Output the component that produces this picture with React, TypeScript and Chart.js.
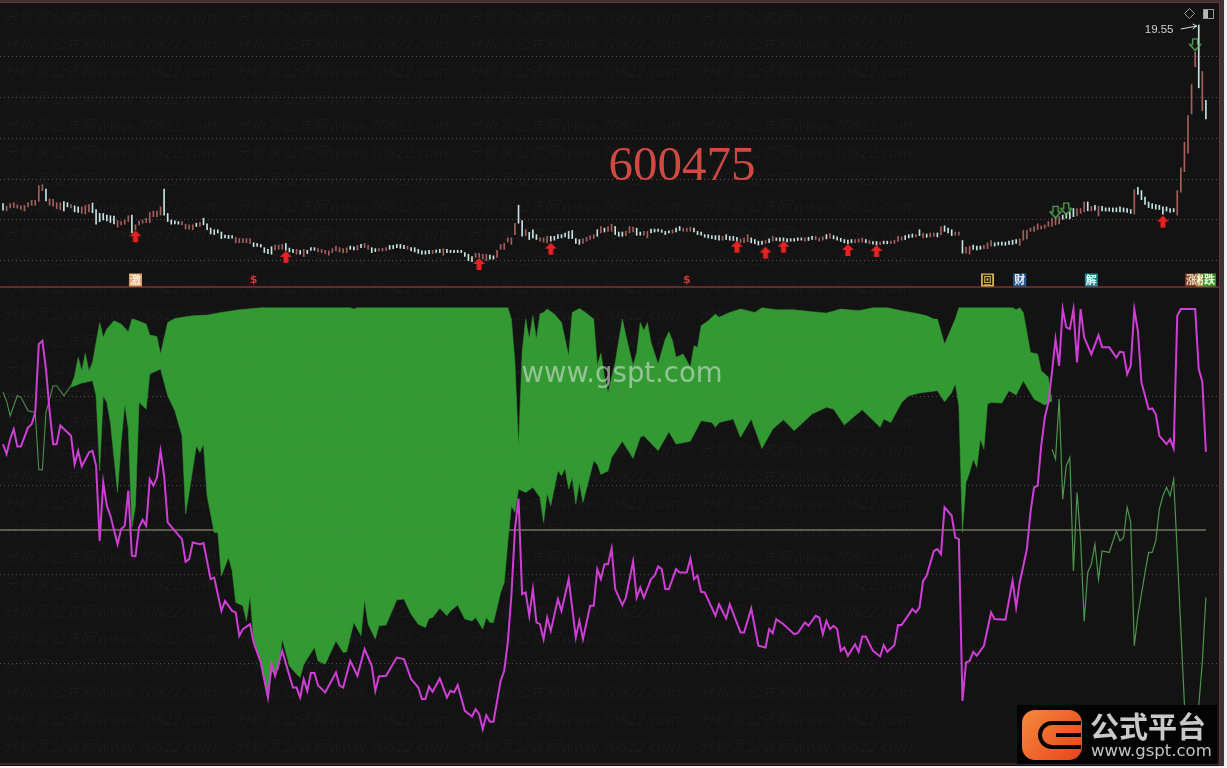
import React, { useEffect, useRef } from "react";
import { Chart, registerables } from "chart.js";

Chart.register(...registerables);

const barHigh = [
  8.6,8.44,8.6,8.66,8.52,8.46,8.48,8.66,8.8,8.8,
  9.7,9.76,9.5,8.9,8.86,8.66,8.66,8.72,8.66,8.54,
  8.46,8.4,8.4,8.48,8.54,8.64,8.24,8.0,8.0,7.9,
  7.86,7.84,7.56,7.5,7.6,7.86,7.9,7.3,7.54,7.6,
  7.7,8.06,8.14,8.14,8.4,9.5,8.0,7.6,7.54,7.5,
  7.5,7.34,7.3,7.3,7.4,7.46,7.7,7.36,7.1,7.0,
  7.0,6.86,6.68,6.66,6.64,6.54,6.46,6.46,6.46,6.46,
  6.2,6.16,6.1,5.9,5.8,5.96,6.06,6.06,6.1,6.16,
  5.88,5.8,5.8,5.74,5.8,5.74,5.9,5.9,5.84,5.8,
  5.74,5.7,5.84,6.0,5.9,5.84,5.9,6.0,5.96,6.04,
  6.1,6.16,6.04,5.9,5.84,5.84,5.86,5.9,6.04,6.04,
  6.1,6.1,6.04,6.0,5.9,5.9,5.8,5.7,5.7,5.74,
  5.74,5.76,5.8,5.84,5.8,5.74,5.74,5.74,5.74,5.6,
  5.5,5.36,5.56,5.56,5.5,5.5,5.44,5.4,5.74,6.1,
  6.16,6.5,6.5,7.4,8.5,7.56,7.0,6.84,7.0,6.7,
  6.5,6.5,6.6,6.6,6.6,6.7,6.7,6.8,6.9,6.96,
  6.46,6.4,6.44,6.54,6.64,6.7,7.0,7.2,7.1,7.2,
  7.34,7.2,6.86,6.86,6.9,7.2,7.16,7.1,6.86,6.9,
  6.9,7.04,7.04,7.04,7.0,6.9,6.94,7.0,7.1,7.2,
  7.1,7.1,7.16,7.1,6.9,6.86,6.7,6.7,6.64,6.64,
  6.64,6.6,6.7,6.6,6.6,6.54,6.44,6.5,6.7,6.5,
  6.4,6.3,6.3,6.34,6.44,6.6,6.5,6.5,6.5,6.46,
  6.46,6.46,6.5,6.5,6.5,6.54,6.6,6.6,6.5,6.56,
  6.7,6.76,6.64,6.56,6.48,6.4,6.36,6.4,6.4,6.44,
  6.48,6.4,6.34,6.28,6.28,6.24,6.3,6.3,6.3,6.36,
  6.6,6.56,6.64,6.7,6.74,6.7,7.0,6.8,6.74,6.8,
  6.8,6.8,7.2,7.24,7.1,7.0,6.86,6.86,6.34,5.94,
  6.0,6.06,6.0,6.0,6.04,6.2,6.34,6.2,6.24,6.24,
  6.24,6.3,6.36,6.4,6.44,6.96,6.96,7.1,7.2,7.36,
  7.24,7.3,7.5,7.7,7.7,7.8,7.9,8.0,8.1,8.3,
  8.3,8.3,8.7,8.7,8.44,8.5,8.44,8.44,8.34,8.34,
  8.34,8.34,8.4,8.34,8.3,8.24,9.46,9.6,9.4,9.0,
  8.7,8.6,8.54,8.5,8.4,8.4,8.3,8.3,9.4,10.8,
  12.36,14.0,15.9,17.9,19.55,16.7,14.94,
];
const barLow = [
  8.2,8.16,8.34,8.36,8.32,8.24,8.16,8.4,8.5,8.5,
  8.74,9.4,8.76,8.5,8.44,8.3,8.24,8.16,8.4,8.34,
  8.1,8.06,8.0,7.96,8.1,8.04,7.34,7.5,7.6,7.54,
  7.44,7.36,7.16,7.3,7.34,7.5,6.8,7.0,7.3,7.4,
  7.44,7.44,7.8,7.8,7.9,7.9,7.5,7.34,7.36,7.34,
  7.3,7.04,7.04,7.0,7.2,7.2,7.3,7.0,6.74,6.7,
  6.8,6.46,6.5,6.46,6.48,6.2,6.2,6.2,6.2,6.14,
  5.96,5.98,5.94,5.6,5.54,5.5,5.76,5.8,5.8,5.74,
  5.64,5.6,5.5,5.5,5.36,5.54,5.74,5.74,5.64,5.6,
  5.54,5.44,5.6,5.7,5.64,5.6,5.6,5.8,5.76,5.76,
  5.9,5.9,5.8,5.6,5.66,5.7,5.7,5.74,5.8,5.84,
  5.9,5.86,5.84,5.8,5.7,5.64,5.56,5.5,5.5,5.54,
  5.54,5.6,5.6,5.44,5.6,5.6,5.6,5.6,5.6,5.36,
  5.1,5.04,5.3,5.3,5.2,5.1,5.2,5.2,5.3,5.8,
  5.8,6.24,6.1,6.7,7.4,6.6,6.64,6.4,6.5,6.4,
  6.3,6.24,6.2,6.3,6.36,6.46,6.5,6.56,6.46,6.46,
  6.16,6.1,6.16,6.3,6.4,6.46,6.6,6.8,6.86,6.9,
  6.9,6.7,6.6,6.6,6.64,6.8,6.86,6.66,6.66,6.66,
  6.5,6.8,6.86,6.9,6.84,6.7,6.8,6.8,6.86,6.96,
  6.9,6.9,6.9,6.86,6.7,6.66,6.54,6.5,6.46,6.4,
  6.36,6.36,6.4,6.36,6.34,6.3,6.2,6.2,6.26,6.2,
  6.14,6.06,6.1,6.16,6.2,6.3,6.34,6.3,6.3,6.26,
  6.3,6.3,6.34,6.36,6.3,6.34,6.4,6.4,6.3,6.36,
  6.44,6.48,6.44,6.36,6.28,6.2,6.14,6.2,6.2,6.24,
  6.24,6.2,6.14,6.12,6.06,6.08,6.14,6.14,6.16,6.16,
  6.28,6.36,6.4,6.5,6.54,6.56,6.64,6.5,6.54,6.56,
  6.6,6.56,6.68,6.9,6.8,6.64,6.66,6.66,5.56,5.56,
  5.5,5.8,5.76,5.8,5.84,5.84,6.0,6.0,6.06,6.06,
  6.04,6.1,6.1,6.16,6.04,6.36,6.44,6.9,6.9,7.0,
  7.04,7.1,7.2,7.2,7.3,7.36,7.64,7.7,7.66,7.8,
  7.84,8.0,8.1,8.16,8.16,8.2,7.84,8.16,8.14,8.14,
  8.1,8.1,8.1,8.1,8.06,8.0,7.96,9.16,8.84,8.56,
  8.36,8.3,8.26,8.24,7.96,8.14,8.06,8.1,7.9,9.3,
  10.56,11.7,14.1,17.0,15.7,14.3,13.8,
];
const fallingDays = [
  0,12,17,18,20,21,25,26,27,28,29,30,31,36,45,46,47,48,49,54,56,57,58,59,60,61,62,63,64,
  70,71,72,73,74,75,79,80,81,83,85,86,87,97,98,100,103,104,108,109,110,111,112,
  114,115,116,117,118,119,121,122,124,125,126,127,128,129,130,131,136,137,144,145,147,148,149,
  153,154,155,156,157,158,159,160,161,166,168,171,172,173,177,178,181,182,183,184,185,186,188,189,
  193,194,195,196,197,198,199,200,202,203,204,205,209,210,211,212,214,216,217,218,219,220,221,222,223,225,226,
  230,232,233,234,235,236,237,241,243,244,246,247,252,253,254,256,258,261,263,264,265,268,271,272,273,
  277,278,279,280,281,282,283,296,297,298,299,303,305,307,308,309,310,311,312,313,314,315,
  317,318,319,320,321,322,323,324,325,326,327,334,336,
];

const buyDays = [37, 79, 133, 153, 205, 213, 218, 236, 244, 324];
const buyPrices = [6.6, 5.34, 4.9, 5.84, 5.96, 5.6, 5.96, 5.76, 5.7, 7.5];
const sellDays = [294, 297, 333];
const sellPrices = [8.1, 8.3, 18.36];

const signalDays = [37, 70, 191, 275, 284, 304, 332, 335, 337];
const signalTexts = ["激", "$", "$", "回", "财", "解", "涨", "榜", "跌"];
const signalFills = ["#dca06c", "", "", "#d8b45c", "#2b5a8c", "#2c8090", "#7c3a24", "#a89858", "#3f8a2a"];
const signalInks = ["#fff4e4", "#c83a3a", "#c83a3a", "#1e1a10", "#e8f0ff", "#e8ffff", "#f0e0c0", "#fff8e0", "#e8ffe0"];

const priceGrid = [5.1, 7.6, 10.1, 12.6, 15.1, 17.6];
const oscillatorGrid = [-60, -20, 20, 60];
const peakLabel = "19.55";
const stockCode = "600475";

const magentaDays = [
  0,1,2,3,4,5,7,8,9,10,11,12,13,14,15,16,19,20,21,22,24,25,26,27,28,29,30,32,33,34,35,36,37,38,39,40,41,42,43,44,45,46,48,50,51,52,53,55,56,58,59,61,62,64,65,66,67,69,70,72,74,75,76,78,80,81,82,
  83,84,85,86,87,88,90,93,94,95,97,99,101,103,104,105,107,110,112,114,116,117,118,119,120,122,124,125,126,127,129,131,132,133,134,135,136,137,139,140,141,142,143,144,145,146,147,148,149,150,151,152,153,155,156,158,160,161,162,164,165,166,
  167,168,169,170,171,173,174,176,177,178,179,181,182,183,184,185,186,188,189,191,192,193,194,195,196,199,200,202,203,206,207,209,211,213,214,215,216,218,221,222,224,225,227,228,229,230,231,232,233,234,235,236,238,239,240,241,243,245,246,247,249,250,251,254,255,
  256,257,258,260,261,262,263,265,266,267,268,269,270,271,272,274,276,277,280,282,283,284,286,287,288,289,290,291,292,293,294,295,296,297,298,299,300,301,302,304,306,307,309,311,312,313,314,315,316,317,318,320,321,322,323,325,326,327,328,329,333,334,335,336,
];
const magentaValues = [
  38.6,34.2,40.9,45.4,37.6,37.6,46.2,47.6,52.9,83.6,85.1,72.4,53.7,38.6,38.6,47,42.4,29.6,35.6,28.6,34.9,35.6,28.9,-4.9,21.4,10.9,6.4,-6.4,0.4,1.9,17.7,-11.6,-11.9,1.2,4.6,1.9,22.9,20,23.6,35.6,24.4,3.4,-0.4,-4.1,-14.3,-13.1,-5.6,-6.4,-5.9,-22.1,-21.4,-36.4,-31.9,-36.4,-37.1,-47.6,-44.6,-42.4,-50.6,-59.6,-75.4,-60.4,-65.6,-54.4,-65.6,-70.9,-70.9,
  -75.4,-67.1,-72.4,-64.4,-64.4,-70,-73.1,-64.1,-70,-70.9,-58.9,-65.6,-53.6,-61.1,-72.4,-65.9,-65.6,-57.4,-58.1,-67.1,-70.9,-76.1,-76.1,-70.4,-72.8,-66.8,-75.4,-72.4,-73.1,-69.8,-81.4,-83.9,-80.6,-82.9,-89.6,-83.3,-86.3,-86.3,-67.9,-63.4,-50.6,-29.6,0.4,14.2,-28.9,-28.1,-38.6,-26.6,-41.6,-42.4,-49.1,-39.4,-45.4,-31.1,-36.4,-22.1,-48.4,-40.9,-49.1,-34.1,-34.1,-17.6,
  -22.1,-15.4,-15.4,-8.3,-26.6,-33.8,-30.4,-14.2,-30.4,-25.9,-30.4,-22.1,-20.6,-16.4,-17.6,-26.6,-26.6,-17.6,-19.1,-19.1,-12.8,-22.1,-20.6,-27.8,-28.1,-38.6,-33.4,-39.8,-33.4,-46.1,-46.1,-35.3,-52.1,-52.9,-44.6,-46.4,-40.1,-42.4,-46.9,-46.4,-41.6,-43.1,-38.6,-39.4,-46.9,-40.9,-44.6,-43.1,-44.6,-54.4,-52.9,-56.6,-51.4,-54.8,-47.9,-47.9,-54.4,-56.9,-51.8,-54.8,-51.8,-42.8,-42.8,-35.6,-37.1,
  -34.9,-22.9,-20.6,-9.4,-8.6,-10.9,10.2,6.4,-3.4,-4.1,-76.9,-59.6,-58.9,-54.8,-56.6,-52.1,-37.1,-40.1,-40.4,-22.9,-34.9,-23.6,-8.6,7.9,19.2,19.9,37.9,50.7,57.4,70.9,85.9,73.9,99.4,91.2,90.4,99.4,75.4,99.4,86.7,79.1,87.7,82.2,82.2,77.6,80.2,79.9,70.1,73.9,99.4,89.6,66.4,54.4,54.7,52.2,42.4,38.6,40.9,36.7,96.4,99.4,99.4,72.4,66.7,35.2,
];

const greenLeftDays = [0,1,2,4,5,7,9,10,11,12,14,15,17,19];
const greenLeftValues = [62,58,51.4,60.4,59.7,53.7,52.9,27.1,27.1,52.9,64.9,64.9,60.4,64.9];

const bandTopDays = [
  19,20,21,22,23,24,25,27,28,29,31,33,35,36,37,40,41,43,44,46,48,53,57,61,66,72,83,97,98,99,141,142,143,144,145,146,147,148,149,150,151,152,154,156,158,159,161,162,165,166,
  167,168,169,171,173,174,176,177,178,179,180,181,183,185,186,187,188,190,192,193,194,195,197,199,200,203,206,208,210,212,216,221,226,230,234,239,243,247,251,256,
  258,260,261,263,264,266,267,282,283,284,285,287,289,290,292,293,
];
const bandTopValues = [
  64.9,69.4,77.7,71.6,79.6,71.6,75.4,93.4,86.7,90.4,94.2,92.7,89.2,94.9,94.6,92.7,87.7,87.1,79.2,93.4,95.2,96.4,96.7,97.9,99.1,100,100,100,99.4,100,100,94.9,75.4,37.1,80,94.9,85.9,96.4,85.9,97.2,97.9,99.4,97.2,93.4,78.4,97.9,99.7,98.7,94.9,73.9,
  79.6,69.4,61.9,75.4,94.9,87.4,73.9,79.9,93.4,89.7,93.4,84.4,74.7,85.9,89.2,85.2,77.7,79.2,73.2,82.9,82.2,91.9,94.2,97.2,95.7,97.9,99.4,98.7,97.9,100,99.1,99.1,98.2,97.6,99.4,98.7,100,100,98.7,97.2,
  96.4,94.9,94.9,83.7,87.4,94.9,100,100,99.1,100,97.9,79.9,79.2,71.7,68.7,58,
];
const bandBottomDays = [
  19,22,25,26,27,28,29,30,32,33,34,35,36,37,38,40,41,44,46,48,50,51,52,54,55,56,57,59,60,61,63,64,65,67,68,69,70,72,74,75,77,78,80,82,
  83,84,87,88,90,93,95,96,98,100,101,102,104,105,107,110,112,114,116,118,119,120,122,124,125,127,129,131,132,134,135,136,137,139,140,141,142,143,144,146,148,150,151,152,153,155,156,157,158,159,160,161,162,165,166,
  167,169,170,173,176,178,179,183,186,188,192,195,198,199,200,204,206,209,212,215,218,221,226,230,232,235,238,240,245,246,248,251,253,256,
  261,263,265,266,267,268,269,270,271,272,273,274,275,276,279,281,283,285,288,291,293,
];
const bandBottomValues = [
  64.2,66.1,67.2,60.4,26.6,60.4,57.4,48.4,16.9,39.4,56.7,45.4,1.2,10.9,57.4,54.4,70.2,72.4,60.4,53.7,42.4,7.2,16.9,37.9,34.9,38.6,15.4,-1.1,-1.1,-20.6,-12.4,-18.4,-32.6,-34.1,-40.9,-29.6,-49.1,-59.6,-75.4,-64.1,-62.6,-49.1,-61.1,-64.9,
  -66.4,-60.4,-52.9,-58.9,-60.4,-49.9,-55.1,-54.8,-41.6,-47.6,-31.4,-42.4,-49.1,-43.1,-42.8,-31.4,-31.1,-37.9,-42.4,-43.9,-39.8,-39.4,-35.2,-38.6,-36.4,-33.8,-40.1,-40.9,-39.4,-44.6,-39.4,-41.6,-41.6,-28.1,-23.6,-5.6,10.9,7.9,18.4,16.9,19.2,14.7,3.4,16.6,10.9,26.7,24.4,27.7,18.4,23.7,11.7,21.4,12.4,31.2,29.6,
  25,26.6,32.6,39.9,32.2,41.7,42.4,35.7,44.2,38.7,39.9,49.2,48.4,46.2,48.4,49.9,41.7,49.9,36.7,45.4,49.6,44.7,52.2,55.2,54.4,47.2,51.4,54.1,46.2,49.9,48.4,57.4,60.4,61.6,
  62.7,57.7,61.9,65.9,55.9,-1.1,21.4,25.9,31.9,28.2,40.9,36.4,56.7,57.4,57.1,62.7,60.7,67.2,58.9,56.2,58,
];

const greenRightDays = [293,294,295,296,297,298,299,300,301,302,303,304,305,306,307,309,311,312,313,314,315,316,317,319,320,321,322,323,324,325,326,327,328,329,330,332,334,335,336];
const greenRightValues = [36.4,31.9,58.9,13.9,28.9,32.6,-18.4,16.9,-4,-41,-19.1,-15.4,-6.4,-22.1,-9.4,-10.1,-0.4,-4.9,-3.4,10.2,3.4,-52.1,-38.6,-19.1,-10.1,-10.1,-4.9,9.4,15.4,19.2,15.4,22.9,-10.4,-44.6,-78.4,-101,-79.1,-59.6,-30.4];

const zeroLineDays = [-0.84, 336];
const zeroLineValues = [0, 0];

const pairs = (xs: number[], ys: number[]) => xs.map((x, i) => ({ x, y: ys[i] }));

function arrowIcon(color: string, hollow: boolean) {
  const c = document.createElement("canvas");
  c.width = 14;
  c.height = 14;
  const g = c.getContext("2d")!;
  g.beginPath();
  if (hollow) {
    g.moveTo(7, 13); g.lineTo(1.5, 7); g.lineTo(4.5, 7); g.lineTo(4.5, 1.5); g.lineTo(9.5, 1.5); g.lineTo(9.5, 7); g.lineTo(12.5, 7);
    g.closePath();
    g.strokeStyle = color;
    g.lineWidth = 1.2;
    g.stroke();
  } else {
    g.moveTo(7, 1); g.lineTo(13, 7); g.lineTo(9.5, 7); g.lineTo(9.5, 13); g.lineTo(4.5, 13); g.lineTo(4.5, 7); g.lineTo(1, 7);
    g.closePath();
    g.fillStyle = color;
    g.fill();
  }
  return c;
}

const decorations = {
  id: "decorations",
  beforeDraw(chart: any) {
    const g = chart.ctx;
    g.save();
    g.fillStyle = "#131314";
    g.fillRect(0, 0, 1227, 768);
    g.restore();
  },
  afterDraw(chart: any) {
    const g = chart.ctx;
    const x = chart.scales.x;
    const yP = chart.scales.yPrice;
    g.save();

    g.font = "italic 15.5px 'Noto Sans CJK SC'";
    g.fillStyle = "rgba(120,120,120,0.075)";
    g.textBaseline = "middle";
    g.textAlign = "left";
    for (let r = 0; r < 28; r++) {
      for (let c = 0; c < 4; c++) {
        g.fillText("分析家公式网www.70822.com", 3 + 232 * c, 17 + 27 * r);
      }
    }

    g.fillStyle = "#3c3335";
    g.fillRect(0, 0, 1227, 2);
    g.fillRect(1219, 0, 5, 766);
    g.fillStyle = "#f0f0f0";
    g.fillRect(1224, 0, 3, 768);
    g.fillRect(0, 766, 1227, 2);
    g.strokeStyle = "#6e2f30";
    g.lineWidth = 1;
    g.strokeRect(-2, 2.5, 1221.5, 761.5);
    g.strokeStyle = "#7c3432";
    g.lineWidth = 1.5;
    g.beginPath();
    g.moveTo(0, 287);
    g.lineTo(1219, 287);
    g.stroke();

    g.textAlign = "center";
    signalDays.forEach((d, i) => {
      const px = x.getPixelForValue(d);
      const py = yP.getPixelForValue(3.92);
      if (signalFills[i]) {
        g.fillStyle = signalFills[i];
        g.fillRect(px - 6.5, py - 6.5, 13, 13);
      }
      g.fillStyle = signalInks[i];
      g.font = signalTexts[i] === "$" ? "bold 11px 'DejaVu Sans'" : "bold 11px 'Noto Sans CJK SC'";
      g.fillText(signalTexts[i], px, py);
    });

    g.fillStyle = "#cfcfcf";
    g.font = "11.5px 'Liberation Sans'";
    g.textAlign = "left";
    const peakX = x.getPixelForValue(334);
    const peakY = yP.getPixelForValue(19.55);
    g.fillText(peakLabel, peakX - 54, peakY + 5);
    g.strokeStyle = "#d8d8d8";
    g.lineWidth = 1;
    g.beginPath();
    g.moveTo(peakX - 18, peakY + 4);
    g.lineTo(peakX - 2, peakY + 1);
    g.moveTo(peakX - 6, peakY - 1);
    g.lineTo(peakX - 2, peakY + 1);
    g.lineTo(peakX - 6, peakY + 4);
    g.stroke();

    g.strokeStyle = "#9a9a9a";
    g.beginPath();
    g.moveTo(1189.5, 8.5); g.lineTo(1194.5, 13.5); g.lineTo(1189.5, 18.5); g.lineTo(1184.5, 13.5);
    g.closePath();
    g.stroke();
    g.strokeRect(1203.5, 9.5, 10, 9);
    g.fillStyle = "#b8b8b8";
    g.fillRect(1204, 10, 4, 8);

    g.font = "49px 'Liberation Serif'";
    g.fillStyle = "#cf4a42";
    g.textAlign = "center";
    g.fillText(stockCode, 682, 167);

    g.font = "27.5px 'DejaVu Sans'";
    g.fillStyle = "rgba(205,225,205,0.62)";
    g.fillText("www.gspt.com", 622, 375);

    g.fillStyle = "#040404";
    g.fillRect(1017, 705, 200, 59);
    const grad = g.createLinearGradient(1022, 710, 1082, 760);
    grad.addColorStop(0, "#f58a3c");
    grad.addColorStop(1, "#e8431c");
    g.fillStyle = grad;
    g.beginPath();
    g.roundRect(1022, 710, 60, 50, 13);
    g.fill();
    g.strokeStyle = "#050505";
    g.lineWidth = 4;
    g.beginPath();
    g.moveTo(1081, 723);
    g.lineTo(1052, 723);
    g.arc(1052, 735, 12, -Math.PI / 2, Math.PI / 2, true);
    g.lineTo(1081, 747);
    g.moveTo(1056, 735);
    g.lineTo(1081, 735);
    g.stroke();
    g.fillStyle = "#c9c9c9";
    g.textAlign = "left";
    g.font = "bold 29px 'Noto Sans CJK SC'";
    g.fillText("公式平台", 1090, 727);
    g.font = "16.5px 'DejaVu Sans'";
    g.fillStyle = "#c4c4c4";
    g.fillText("www.gspt.com", 1091, 752);

    g.restore();
  },
};

export default function App() {
  const ref = useRef<HTMLCanvasElement>(null);
  useEffect(() => {
    const falling = new Set(fallingDays);
    const bars = barHigh.map((h, i) => ({ x: i, y: [barLow[i], h] }));
    const chart = new Chart(ref.current!, {
      type: "line",
      plugins: [decorations],
      data: {
        datasets: [
          { type: "line", data: pairs(zeroLineDays, zeroLineValues), yAxisID: "yOsc", borderColor: "#a8a487", borderWidth: 1, pointRadius: 0, order: 9 },
          { type: "line", data: pairs(greenLeftDays, greenLeftValues), yAxisID: "yOsc", borderColor: "#4f8f4f", borderWidth: 1.1, pointRadius: 0, order: 8 },
          { type: "line", data: pairs(bandTopDays, bandTopValues), yAxisID: "yOsc", borderColor: "#339933", borderWidth: 0.5, backgroundColor: "#339933", fill: "+1", pointRadius: 0, order: 7 },
          { type: "line", data: pairs(bandBottomDays, bandBottomValues), yAxisID: "yOsc", borderColor: "#339933", borderWidth: 0.5, pointRadius: 0, order: 7 },
          { type: "line", data: pairs(greenRightDays, greenRightValues), yAxisID: "yOsc", borderColor: "#4c954c", borderWidth: 1.2, pointRadius: 0, order: 6 },
          { type: "line", data: pairs(magentaDays, magentaValues), yAxisID: "yOsc", borderColor: "#cf3fd6", borderWidth: 2, pointRadius: 0, order: 1 },
          { type: "bar", data: bars as any, yAxisID: "yPrice", barThickness: 1, backgroundColor: bars.map((_, i) => (falling.has(i) ? "#c6e4e2" : "#a5605c")), order: 3 },
          { type: "line", data: pairs(buyDays, buyPrices), yAxisID: "yPrice", showLine: false, pointStyle: arrowIcon("#e62222", false) as any, pointRadius: 7, order: 2 },
          { type: "line", data: pairs(sellDays, sellPrices), yAxisID: "yPrice", showLine: false, pointStyle: arrowIcon("#5cb85c", true) as any, pointRadius: 7, order: 2 },
        ],
      },
      options: {
        animation: false,
        responsive: false,
        devicePixelRatio: 1,
        layout: { autoPadding: false, padding: { top: 3, bottom: 4, left: 0, right: 8 } },
        plugins: { legend: { display: false }, tooltip: { enabled: false } },
        elements: { line: { tension: 0 } },
        scales: {
          x: { type: "linear", min: -0.84, max: 339.66, offset: false, display: false, grid: { display: false } },
          yOsc: {
            type: "linear",
            position: "left",
            stack: "panes",
            stackWeight: 477,
            weight: 1,
            min: -105.3,
            max: 109.35,
            ticks: { display: false },
            border: { display: false, dash: [1, 3] },
            grid: { color: "#5a4648", drawTicks: false, lineWidth: 1 },
            afterFit: (s: any) => { s.width = 0; },
            afterBuildTicks: (s: any) => { s.ticks = oscillatorGrid.map((value) => ({ value })); },
          },
          yPrice: {
            type: "linear",
            position: "left",
            stack: "panes",
            stackWeight: 284,
            weight: 2,
            min: 3.49,
            max: 20.9,
            ticks: { display: false },
            border: { display: false, dash: [1, 3] },
            grid: { color: "#6a4446", drawTicks: false, lineWidth: 1 },
            afterFit: (s: any) => { s.width = 0; },
            afterBuildTicks: (s: any) => { s.ticks = priceGrid.map((value) => ({ value })); },
          },
        },
      } as any,
    });
    return () => chart.destroy();
  }, []);
  return (
    <div style={{ position: "fixed", left: 0, top: 0, width: 1227, height: 768, overflow: "hidden", background: "#f4f4f4" }}>
      <canvas ref={ref} width={1227} height={768} style={{ display: "block" }} />
    </div>
  );
}
